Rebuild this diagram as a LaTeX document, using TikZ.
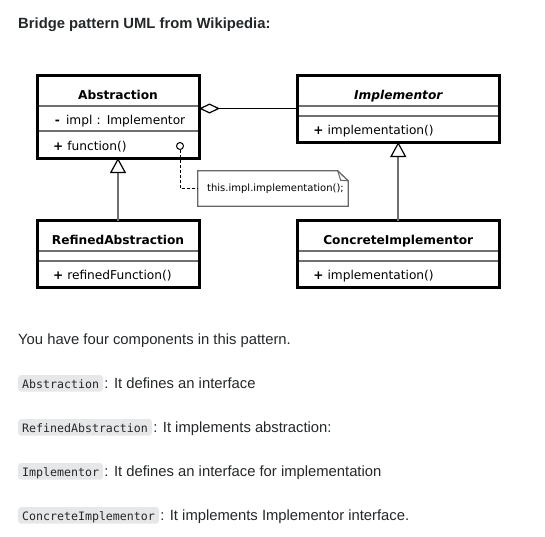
\documentclass[tikz,border=0pt]{standalone}
\usepackage{fontspec}
\setmainfont{Liberation Sans}
\newfontfamily\umlfont{DejaVu Sans}
\newfontfamily\codefont{DejaVu Sans Mono}
\usetikzlibrary{calc}
\usetikzlibrary{positioning}
\usetikzlibrary{arrows.meta}

\definecolor{bodytext}{HTML}{242729}
\definecolor{codebg}{HTML}{E6E7E8}
\definecolor{umlgray}{HTML}{707070}
\definecolor{notegray}{HTML}{666666}

\begin{document}
\begin{tikzpicture}[x=1pt,y=-1pt,
  classpart/.style={draw=umlgray,line width=1.5pt,inner sep=0pt,outer sep=0pt,
    font=\umlfont\fontsize{12.2}{14}\selectfont},
  classtitle/.style={classpart,minimum width=#1,text height=23.5pt,text depth=7pt,
    font=\umlfont\bfseries\fontsize{12.2}{14}\selectfont},
  member/.style={classpart,text width=#1,align=left,inner xsep=16pt,
    text height=18pt,text depth=7pt},
  emptypart/.style={classpart,minimum width=#1,minimum height=10pt},
  classframe/.style={draw=black,line width=3pt},
  inherit/.style={draw=umlgray,line width=2pt,
    -{Triangle[open,length=15pt,width=16pt,color=black,line width=1.2pt]}},
  aggregate/.style={draw=black,line width=1.2pt,
    -{Diamond[open,length=21pt,width=10pt,line width=1.2pt]}},
  notelink/.style={draw=black,line width=1pt,dash pattern=on 3pt off 2pt},
  noteframe/.style={draw=notegray,line width=1.3pt},
  body/.style={text=bodytext,inner sep=0pt,font=\fontsize{14.8}{17}\selectfont},
  codetag/.style={fill=codebg,rounded corners=3pt,text=bodytext,inner xsep=4pt,
    inner ysep=3.4pt,text height=9.9pt,text depth=0pt,
    font=\codefont\fontsize{11.6}{13}\selectfont}]

\useasboundingbox (0,0) rectangle (545,536);

% heading
\node[body,anchor=base west,font=\bfseries\fontsize{14.8}{17}\selectfont] (heading) at (18,28.3) {Bridge pattern UML from Wikipedia:};

% Abstraction
\node[classtitle=162pt,anchor=north] (abstitle) at (118,75.5) {Abstraction};
\node[member=130pt,minimum height=25pt,below=0pt of abstitle] (absattr) {\mbox{\makebox[9pt]{\bfseries -} impl : Implementor}};
\node[member=130pt,minimum height=27pt,below=0pt of absattr] (absmeth) {\textbf{+} function()};
\draw[classframe] (abstitle.north west) rectangle (absmeth.south east);

% Implementor
\node[classtitle=202pt,anchor=north,font=\umlfont\bfseries\itshape\fontsize{12.2}{14}\selectfont] (impltitle) at (398.25,75.5) {Implementor};
\node[emptypart=202pt,below=0pt of impltitle] (implattr) {};
\node[member=170pt,minimum height=26pt,below=0pt of implattr] (implmeth) {\textbf{+} implementation()};
\draw[classframe] (impltitle.north west) rectangle (implmeth.south east);

% RefinedAbstraction
\node[classtitle=162pt,anchor=north] (reftitle) at (118,220.7) {RefinedAbstraction};
\node[emptypart=162pt,below=0pt of reftitle] (refattr) {};
\node[member=130pt,minimum height=26.5pt,below=0pt of refattr] (refmeth) {\textbf{+} refinedFunction()};
\draw[classframe] (reftitle.north west) rectangle (refmeth.south east);

% ConcreteImplementor
\node[classtitle=202pt,anchor=north] (contitle) at (398.25,220.7) {ConcreteImplementor};
\node[emptypart=202pt,below=0pt of contitle] (conattr) {};
\node[member=170pt,minimum height=26.5pt,below=0pt of conattr] (conmeth) {\textbf{+} implementation()};
\draw[classframe] (contitle.north west) rectangle (conmeth.south east);

% connectors
\draw[aggregate] ([yshift=2.5pt]implattr.west) -- ([yshift=2.5pt]implattr.west -| absattr.east);
\draw[inherit] (reftitle.north) -- (absmeth.south);
\draw[inherit] (contitle.north) -- (implmeth.south);

% note
\node[draw=black,line width=1pt,fill=white,circle,minimum size=7pt,inner sep=0pt] (callpt) at (180,146) {};
\node[minimum width=150pt,minimum height=35pt,inner sep=0pt,font=\umlfont\fontsize{10}{12}\selectfont] (note) at (273,188.5) {\hspace{5pt}this.impl.implementation();};
\draw[noteframe] (note.north west) -- ([xshift=-10.5pt]note.north east) -- ([yshift=-10pt]note.north east)
  -- (note.south east) -- (note.south west) -- cycle;
\draw[noteframe,line width=1pt] ([xshift=-10.5pt]note.north east) -- ++(3,9.5) -- ([yshift=-10pt]note.north east);
\draw[notelink] (callpt.south) |- (note.west);

% text below
\node[body,anchor=base west] (intro) at (18,344) {You have four components in this pattern.};

\node[codetag,anchor=base west] (absname) at (18,388.3) {Abstraction};
\node[body,anchor=base west,inner xsep=1pt] (absdesc) at (absname.base east) {: It defines an interface};

\node[codetag,anchor=base west] (refname) at (18,432.3) {RefinedAbstraction};
\node[body,anchor=base west,inner xsep=1pt] (refdesc) at (refname.base east) {: It implements abstraction:};

\node[codetag,anchor=base west] (implname) at (18,476.3) {Implementor};
\node[body,anchor=base west,inner xsep=1pt] (impldesc) at (implname.base east) {: It defines an interface for implementation};

\node[codetag,anchor=base west] (conname) at (18,520.3) {ConcreteImplementor};
\node[body,anchor=base west,inner xsep=1pt] (condesc) at (conname.base east) {: It implements Implementor interface.};

\end{tikzpicture}
\end{document}
